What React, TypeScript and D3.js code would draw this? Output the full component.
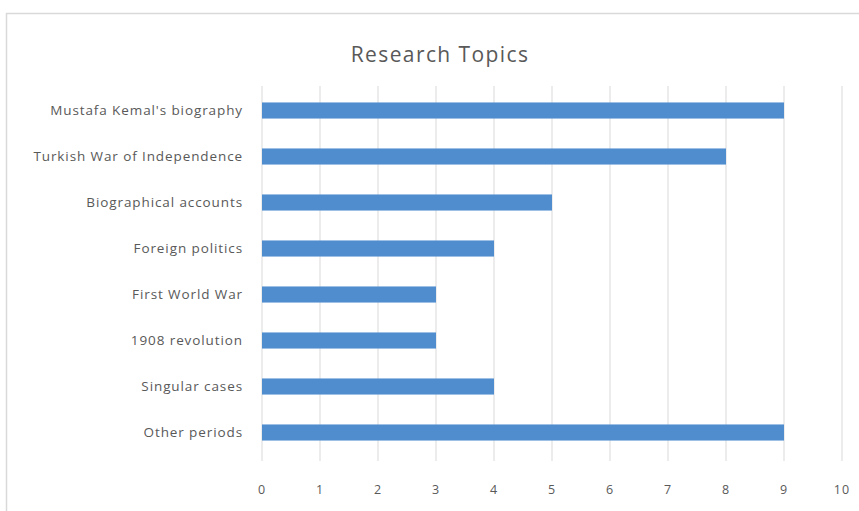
import React from "react";
import * as d3 from "d3";

const categories = [
  "Mustafa Kemal's biography",
  "Turkish War of Independence",
  "Biographical accounts",
  "Foreign politics",
  "First World War",
  "1908 revolution",
  "Singular cases",
  "Other periods",
];
const values = [9, 8, 5, 4, 3, 3, 4, 9];
const xTicks = [0, 1, 2, 3, 4, 5, 6, 7, 8, 9, 10];
const title = "Research Topics";

const W = 859;
const H = 511;
const plot = { left: 262, right: 842, top: 87.5, bottom: 455.5 };
const font = "'Open Sans', 'Noto Sans', sans-serif";

export default function App() {
  const x = d3.scaleLinear().domain([0, 10]).range([plot.left, plot.right]);
  const y = d3
    .scaleBand<string>()
    .domain(categories)
    .range([plot.top, plot.bottom])
    .paddingInner(0.65)
    .paddingOuter(0.325);

  return (
    <div style={{ position: "absolute", left: 0, top: 0 }}>
      <svg width={W} height={H} style={{ display: "block", background: "#fff" }}>
        <rect x={6.5} y={13.5} width={858} height={520} fill="#fff" stroke="#d9d9d9" strokeWidth={1.5} />
        <text
          x={440}
          y={62}
          textAnchor="middle"
          fontFamily={font}
          fontSize={21}
          letterSpacing={1.4}
          fill="#595959"
        >
          {title}
        </text>
        {xTicks.map((t) => (
          <line
            key={"g" + t}
            x1={x(t)}
            x2={x(t)}
            y1={86}
            y2={461}
            stroke="#d9d9d9"
            strokeWidth={1}
          />
        ))}
        {categories.map((c, i) => (
          <rect
            key={c}
            x={x(0)}
            y={y(c)!}
            width={x(values[i]) - x(0)}
            height={y.bandwidth()}
            fill="#4f8dcf"
          />
        ))}
        {categories.map((c) => (
          <text
            key={"l" + c}
            x={243}
            y={y(c)! + y.bandwidth() / 2}
            dy="0.35em"
            textAnchor="end"
            fontFamily={font}
            fontSize={13.5}
            letterSpacing={0.9}
            fill="#595959"
          >
            {c}
          </text>
        ))}
        {xTicks.map((t) => (
          <text
            key={"t" + t}
            x={x(t)}
            y={494}
            textAnchor="middle"
            fontFamily={font}
            fontSize={12.5}
            letterSpacing={1}
            fill="#595959"
          >
            {t}
          </text>
        ))}
      </svg>
    </div>
  );
}
